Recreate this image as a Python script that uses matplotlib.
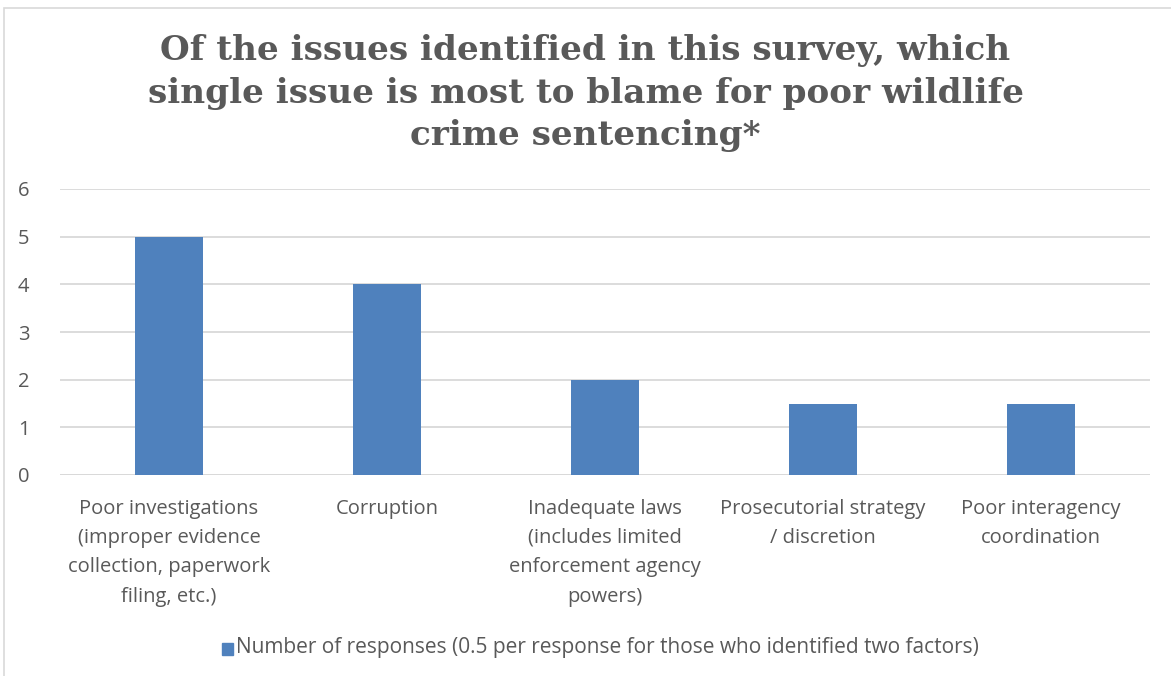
import matplotlib.pyplot as plt
from matplotlib.patches import Rectangle

# Survey results
categories = [
    'Poor investigations\n(improper evidence\ncollection, paperwork\nfiling, etc.)',
    'Corruption',
    'Inadequate laws\n(includes limited\nenforcement agency\npowers)',
    'Prosecutorial strategy\n/ discretion',
    'Poor interagency\ncoordination',
]
responses = [5, 4, 2, 1.5, 1.5]
y_ticks = [0, 1, 2, 3, 4, 5, 6]
series_name = 'Number of responses (0.5 per response for those who identified two factors)'
title = ('Of the issues identified in this survey, which\n'
         'single issue is most to blame for poor wildlife\n'
         'crime sentencing*')

text_color = '#595959'
bar_color = '#4f81bd'
grid_color = '#d9d9d9'

fig = plt.figure(figsize=(11.71, 6.76), dpi=100)
W, H = 1171, 676

# Outer chart frame
fig.patches.append(Rectangle((4 / W, -0.01), 1.2, (H - 8) / H + 0.01,
                             transform=fig.transFigure, fill=False,
                             edgecolor='#d9d9d9', linewidth=1.2))

ax = fig.add_axes([60 / W, 1 - 475 / H, 1090 / W, (475 - 189) / H])
x = range(len(categories))
ax.bar(x, responses, width=0.31, color=bar_color, zorder=3)
ax.set_xlim(-0.5, len(categories) - 0.5)
ax.set_ylim(0, 6)
ax.set_yticks(y_ticks)
ax.set_yticklabels([str(t) for t in y_ticks])
ax.set_xticks(list(x))
ax.set_xticklabels(categories, linespacing=1.62)
ax.yaxis.grid(True, color=grid_color, linewidth=1.3, zorder=0)
for s in ax.spines.values():
    s.set_visible(False)
ax.axhline(0, color=grid_color, linewidth=1.3, zorder=1)
ax.tick_params(axis='both', length=0, labelsize=14.5, colors=text_color,
               labelfontfamily='Open Sans')
ax.tick_params(axis='y', pad=22)
ax.tick_params(axis='x', pad=17)

fig.text(0.5, 1 - 93 / H, title, ha='center', va='center',
         fontsize=24.7, fontweight='bold', family='DejaVu Serif',
         color=text_color, linespacing=1.36)

# Legend entry
fig.patches.append(Rectangle((222 / W, 1 - 655 / H), 11 / W, 12 / H,
                             transform=fig.transFigure, color=bar_color))
fig.text(236 / W, 1 - 648 / H, series_name, ha='left', va='center',
         fontsize=15, family='Open Sans', color=text_color)

fig.savefig('out.png', dpi=100)
